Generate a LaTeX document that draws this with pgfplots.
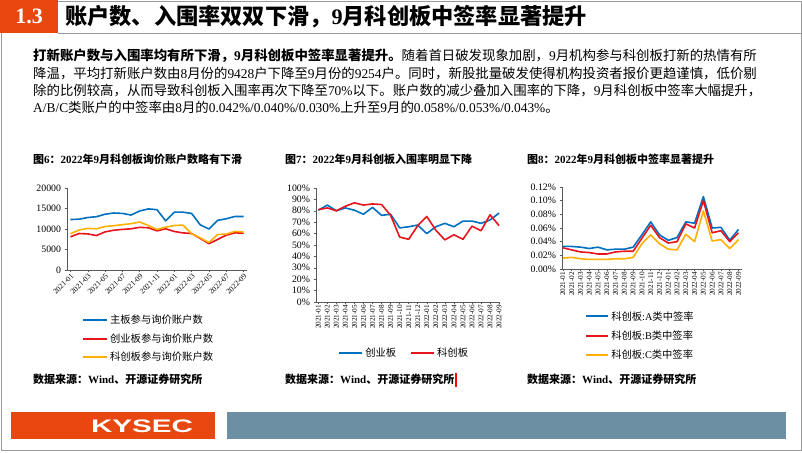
\documentclass[border=0pt]{standalone}
\usepackage{fontspec}
\usepackage{graphicx}
\usepackage{pgfplots}
\pgfplotsset{compat=1.18}
\setmainfont{Liberation Serif}
\newfontfamily\cjk{Noto Sans CJK SC}
\newfontfamily\sans{Liberation Sans}

\XeTeXinterchartokenstate=1
\newXeTeXintercharclass\cjkclass
\newcount\cc
\cc="3000 \loop\XeTeXcharclass\cc=\cjkclass \ifnum\cc<"303F \advance\cc by 1 \repeat
\cc="4E00 \loop\XeTeXcharclass\cc=\cjkclass \ifnum\cc<"9FFF \advance\cc by 1 \repeat
\cc="FF00 \loop\XeTeXcharclass\cc=\cjkclass \ifnum\cc<"FFEF \advance\cc by 1 \repeat
\XeTeXinterchartoks 0 \cjkclass = {\begingroup\cjk}
\XeTeXinterchartoks 4095 \cjkclass = {\begingroup\cjk}
\XeTeXinterchartoks \cjkclass 0 = {\endgroup}
\XeTeXinterchartoks \cjkclass 4095 = {\endgroup}

\definecolor{hdr}{RGB}{232,72,16}
\definecolor{kblue}{RGB}{0,112,192}
\definecolor{kred}{RGB}{232,20,28}
\definecolor{korange}{RGB}{255,176,0}
\definecolor{slate}{RGB}{108,143,163}

\pgfplotsset{
 kstyle/.style={
  scale only axis,
  anchor=south west,
  axis x line*=bottom, axis y line*=left,
  axis line style={black!65, line width=0.6pt, -},
  tick align=outside,
  major tick length=2.5pt,
  tick style={black!65, line width=0.5pt},
  ticklabel style={font=\fontsize{9.8}{10}\selectfont},
  /pgf/number format/assume math mode=true,
  legend cell align=left,
  legend style={draw=none, fill=none, inner sep=0pt, font=\fontsize{10.3}{12}\selectfont},
  legend image code/.code={\draw[##1, line width=2pt] (0pt,0pt) -- (24pt,0pt);},
  every axis plot/.append style={line width=1.6pt, line join=round},
 }
}

\begin{document}
\begin{tikzpicture}[x=1pt,y=1pt]
\path[use as bounding box] (0,0) rectangle (802,452);
\fill[white] (0,0) rectangle (802,452);
% frame and header
\draw[black!40, line width=0.8pt] (1,2) rectangle (801,451);
\draw[black!40, line width=0.8pt] (58,419) -- (801,419);
\fill[hdr] (0,419) rectangle (58,452);
\node[text=white, font=\fontsize{22}{24}\selectfont\bfseries] at (29,435.5) {1.3};
\node[anchor=west, inner sep=0, font=\fontsize{22.2}{24}\selectfont\bfseries] at (65,435.5) {账户数、入围率双双下滑，9月科创板中签率显著提升};

% paragraph
\begin{scope}[every node/.style={anchor=base west, inner sep=0, font=\fontsize{13.4}{15}\selectfont}]
\node at (33,391) {{\bfseries 打新账户数与入围率均有所下滑，9月科创板中签率显著提升。}随着首日破发现象加剧，9月机构参与科创板打新的热情有所};
\node at (33,373) {降温，平均打新账户数由8月份的9428户下降至9月份的9254户。同时，新股批量破发使得机构投资者报价更趋谨慎，低价剔};
\node at (33,356) {除的比例较高，从而导致科创板入围率再次下降至70\%以下。账户数的减少叠加入围率的下降，9月科创板中签率大幅提升，};
\node at (33,339) {A/B/C类账户的中签率由8月的0.042\%/0.040\%/0.030\%上升至9月的0.058\%/0.053\%/0.043\%。};
\end{scope}

% chart titles
\begin{scope}[every node/.style={anchor=base west, inner sep=0, font=\fontsize{11}{13}\selectfont\bfseries}]
\node at (33,288) {图6：2022年9月科创板询价账户数略有下滑};
\node at (285,288) {图7：2022年9月科创板入围率明显下降};
\node at (527,288) {图8：2022年9月科创板中签率显著提升};
\end{scope}

% sources
\begin{scope}[every node/.style={anchor=base west, inner sep=0, font=\fontsize{11}{13}\selectfont\bfseries}]
\node at (33,68) {数据来源：Wind、开源证券研究所};
\node at (285,68) {数据来源：Wind、开源证券研究所};
\node at (527,68) {数据来源：Wind、开源证券研究所};
\end{scope}
\draw[red, line width=1.5pt] (456,65) -- (456,79);

% footer
\fill[hdr] (11,13) rectangle (215,40.5);
\fill[slate] (227,13) rectangle (786,40.5);
\node[text=white, inner sep=0] at (142,25.5) {\resizebox{102pt}{12.7pt}{\sans\bfseries KYSEC}};

% Chart 1
\begin{axis}[kstyle, at={(67pt,182pt)}, width=180pt, height=82pt,
 xmin=-0.4, xmax=20.4, ymin=0, ymax=20000,
 ytick={0,5000,10000,15000,20000}, scaled y ticks=false,
 yticklabel style={/pgf/number format/set thousands separator={}},
 xtick={0,2,...,20},
 xticklabels={2021-01,2021-03,2021-05,2021-07,2021-09,2021-11,2022-01,2022-03,2022-05,2022-07,2022-09},
 x tick label style={rotate=45, anchor=north east, font=\fontsize{7.6}{8}\selectfont, inner sep=0.3pt},
 legend style={at={(0.083,-0.52)}, anchor=north west, row sep=4.5pt},
]
\addplot[kblue] coordinates {(0,12300)(1,12400)(2,12800)(3,13000)(4,13600)(5,13900)(6,13800)(7,13400)(8,14400)(9,14900)(10,14700)(11,12000)(12,14100)(13,14100)(14,13800)(15,11000)(16,10000)(17,12100)(18,12500)(19,13050)(20,13050)};
\addlegendentry{主板参与询价账户数}
\addplot[kred] coordinates {(0,8100)(1,8900)(2,8800)(3,8400)(4,9300)(5,9700)(6,9900)(7,10050)(8,10400)(9,10300)(10,9550)(11,10050)(12,9400)(13,9050)(14,8900)(15,7700)(16,6400)(17,7450)(18,8500)(19,9050)(20,9000)};
\addlegendentry{创业板参与询价账户数}
\addplot[korange] coordinates {(0,8850)(1,9750)(2,10150)(3,10050)(4,10600)(5,10800)(6,11050)(7,11300)(8,11700)(9,10850)(10,9900)(11,10450)(12,10850)(13,10950)(14,8850)(15,7850)(16,6700)(17,8650)(18,8750)(19,9428)(20,9254)};
\addlegendentry{科创板参与询价账户数}
\end{axis}

% Chart 2
\begin{axis}[kstyle, at={(316pt,150pt)}, width=184pt, height=114pt,
 xmin=-0.25, xmax=20.1, ymin=0, ymax=100, ytick={0,10,...,100},
 yticklabel={\pgfmathprintnumber{\tick}\%},
 xtick={0,...,20},
 xticklabels={2021-01,2021-02,2021-03,2021-04,2021-05,2021-06,2021-07,2021-08,2021-09,2021-10,2021-11,2021-12,2022-01,2022-02,2022-03,2022-04,2022-05,2022-06,2022-07,2022-08,2022-09},
 x tick label style={rotate=90, anchor=east, font=\fontsize{7.2}{8}\selectfont, inner sep=0.3pt},
 legend columns=2,
 legend style={at={(0.12,-0.447)}, anchor=west, /tikz/every even column/.append style={column sep=12pt}},
 legend image code/.code={\draw[#1, line width=2pt] (0pt,0pt) -- (23pt,0pt);},
]
\addplot[kblue] coordinates {(0,80.5)(1,85)(2,80)(3,82.5)(4,80.5)(5,77)(6,83)(7,76)(8,77)(9,65)(10,66)(11,67.5)(12,60)(13,66)(14,69)(15,66)(16,71)(17,71)(18,69)(19,72)(20,78)};
\addlegendentry{创业板}
\addplot[kred] coordinates {(0,81)(1,82.5)(2,80)(3,84)(4,87)(5,85)(6,86)(7,85.5)(8,76)(9,57)(10,55)(11,67)(12,75)(13,63)(14,54.5)(15,59)(16,55)(17,66.5)(18,62.5)(19,76.5)(20,67)};
\addlegendentry{科创板}
\end{axis}

% Chart 3
\begin{axis}[kstyle, at={(562pt,183pt)}, width=180pt, height=82pt,
 xmin=-0.1, xmax=20.4, ymin=0, ymax=0.12, ytick={0,0.02,0.04,0.06,0.08,0.1,0.12},
 yticklabel={\pgfmathprintnumber[fixed,fixed zerofill,precision=2]{\tick}\%},
 xtick={0,...,20},
 xticklabels={2021-01,2021-02,2021-03,2021-04,2021-05,2021-06,2021-07,2021-08,2021-09,2021-10,2021-11,2021-12,2022-01,2022-02,2022-03,2022-04,2022-05,2022-06,2022-07,2022-08,2022-09},
 x tick label style={rotate=90, anchor=east, font=\fontsize{7.2}{8}\selectfont, inner sep=0.3pt},
 legend style={at={(0.128,-0.49)}, anchor=north west, row sep=5pt},
 legend image code/.code={\draw[#1, line width=2pt] (0pt,0pt) -- (22pt,0pt);},
]
\addplot[kblue] coordinates {(0,0.033)(1,0.033)(2,0.032)(3,0.030)(4,0.032)(5,0.028)(6,0.029)(7,0.029)(8,0.032)(9,0.050)(10,0.069)(11,0.050)(12,0.042)(13,0.046)(14,0.069)(15,0.067)(16,0.106)(17,0.060)(18,0.061)(19,0.042)(20,0.058)};
\addlegendentry{科创板:A类中签率}
\addplot[kred] coordinates {(0,0.031)(1,0.028)(2,0.025)(3,0.024)(4,0.022)(5,0.022)(6,0.025)(7,0.026)(8,0.026)(9,0.045)(10,0.064)(11,0.046)(12,0.038)(13,0.040)(14,0.066)(15,0.060)(16,0.100)(17,0.053)(18,0.056)(19,0.040)(20,0.053)};
\addlegendentry{科创板:B类中签率}
\addplot[korange] coordinates {(0,0.016)(1,0.017)(2,0.015)(3,0.014)(4,0.014)(5,0.014)(6,0.015)(7,0.015)(8,0.017)(9,0.037)(10,0.050)(11,0.037)(12,0.029)(13,0.028)(14,0.051)(15,0.040)(16,0.085)(17,0.041)(18,0.043)(19,0.030)(20,0.043)};
\addlegendentry{科创板:C类中签率}
\end{axis}
\end{tikzpicture}
\end{document}
